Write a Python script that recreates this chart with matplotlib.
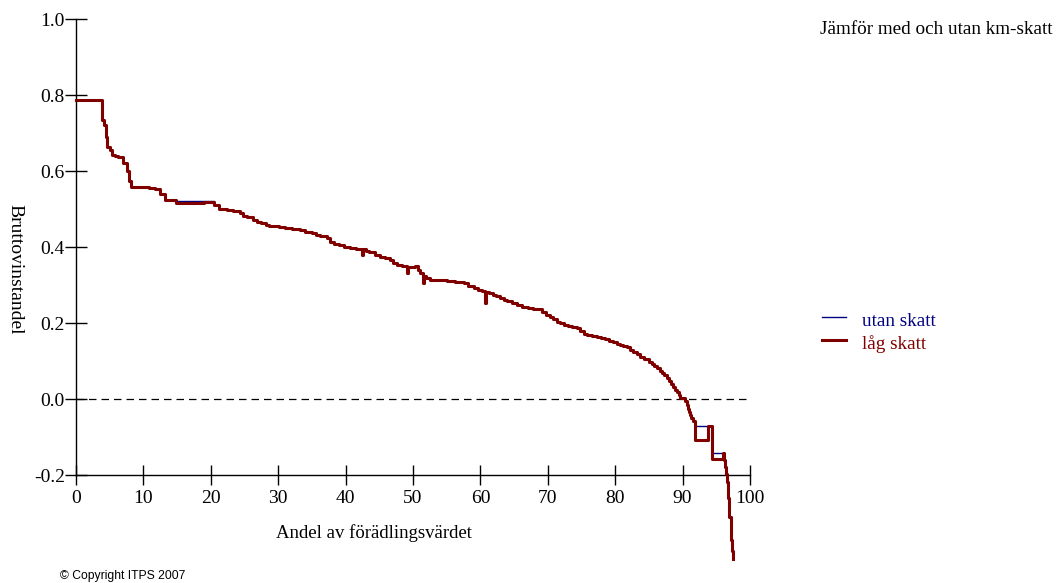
import matplotlib
matplotlib.use('Agg')
import matplotlib.pyplot as plt
from matplotlib.lines import Line2D

plt.rcParams['font.family'] = 'Liberation Serif'

# Andel av förädlingsvärdet (%) and bruttovinstandel for "låg skatt" (step curve)
x_andel = [0.0, 3.8, 4.2, 4.4, 4.6, 5.0, 5.4, 5.8, 6.2, 6.9, 7.5, 7.9, 8.2, 9.5,
           10.8, 11.7, 12.4, 13.2, 14.9, 19.0, 20.5, 21.2, 22.4, 23.3, 24.3, 24.8,
           25.4, 26.3, 26.9, 27.5, 28.2, 28.7, 29.2, 30.1, 31.0, 32.1, 33.2, 34.0,
           35.0, 35.6, 36.2, 37.2, 37.7, 38.3, 39.0, 39.8, 40.7, 41.5, 42.4, 42.55,
           43.0, 43.5, 44.3, 45.1, 45.8, 46.6, 47.1, 47.6, 48.3, 49.1, 49.25, 50.3,
           50.7, 51.0, 51.5, 51.65, 52.0, 52.5, 53.8, 55.0, 56.2, 57.5, 58.2, 59.0,
           59.6, 60.2, 60.7, 60.85, 61.3, 61.8, 62.3, 62.9, 63.5, 64.0, 64.7, 65.4,
           66.2, 67.0, 67.8, 68.6, 69.2, 69.8, 70.3, 70.8, 71.3, 71.8, 72.4, 73.0,
           73.6, 74.3, 74.8, 75.3, 75.8, 76.5, 77.3, 77.9, 78.5, 79.1, 79.7, 80.2,
           80.7, 81.2, 81.7, 82.2, 82.7, 83.2, 83.7, 84.3, 85.0, 85.4, 85.8, 86.2,
           86.6, 87.0, 87.3, 87.7, 88.0, 88.3, 88.6, 88.9, 89.1, 89.4, 89.6, 90.4,
           90.6, 90.8, 91.0, 91.1, 91.3, 91.5, 91.8, 93.7, 94.3, 96.0, 96.15, 96.3,
           96.45, 96.6, 96.75, 96.9, 97.2, 97.3, 97.5]

lag_skatt = [0.787, 0.734, 0.720, 0.690, 0.664, 0.655, 0.642, 0.640, 0.636, 0.621,
             0.600, 0.575, 0.559, 0.557, 0.555, 0.553, 0.540, 0.524, 0.515, 0.519,
             0.510, 0.500, 0.497, 0.495, 0.490, 0.482, 0.478, 0.471, 0.467, 0.463,
             0.458, 0.456, 0.454, 0.452, 0.450, 0.448, 0.444, 0.440, 0.436, 0.432,
             0.428, 0.423, 0.412, 0.409, 0.405, 0.401, 0.397, 0.396, 0.379, 0.394,
             0.390, 0.386, 0.380, 0.375, 0.371, 0.366, 0.359, 0.353, 0.350, 0.331,
             0.347, 0.349, 0.340, 0.331, 0.304, 0.325, 0.318, 0.313, 0.312, 0.311,
             0.308, 0.304, 0.298, 0.291, 0.288, 0.285, 0.252, 0.282, 0.279, 0.275,
             0.270, 0.265, 0.261, 0.258, 0.252, 0.247, 0.243, 0.240, 0.238, 0.236,
             0.228, 0.221, 0.215, 0.210, 0.204, 0.199, 0.195, 0.192, 0.189, 0.186,
             0.178, 0.172, 0.168, 0.166, 0.164, 0.160, 0.157, 0.154, 0.151, 0.146,
             0.142, 0.139, 0.136, 0.130, 0.124, 0.118, 0.111, 0.105, 0.098, 0.093,
             0.088, 0.082, 0.075, 0.068, 0.062, 0.055, 0.048, 0.040, 0.032, 0.025,
             0.018, 0.010, 0.002, -0.005, -0.015, -0.025, -0.035, -0.042, -0.050,
             -0.058, -0.108, -0.071, -0.159, -0.143, -0.160, -0.178, -0.198, -0.218,
             -0.260, -0.310, -0.370, -0.400, -0.420]

# steps where "utan skatt" differs from "låg skatt": start x -> value
utan_avvikelser = {14.9: 0.522, 19.0: 0.522, 91.8: -0.071, 94.3: -0.143}
utan_skatt = [utan_avvikelser.get(x, y) for x, y in zip(x_andel, lag_skatt)]

xticks = [0, 10, 20, 30, 40, 50, 60, 70, 80, 90, 100]
yticks = [-0.2, 0.0, 0.2, 0.4, 0.6, 0.8, 1.0]

blue = '#000080'
red = '#800000'

fig = plt.figure(figsize=(10.62, 5.83), dpi=100)
ax = fig.add_axes([0.0716, 0.1852, 0.6346, 0.7822])

ax.plot(x_andel, utan_skatt, drawstyle='steps-post', color=blue, lw=1.0,
        clip_on=False, zorder=3)
ax.plot(x_andel, lag_skatt, drawstyle='steps-post', color=red, lw=2.2,
        clip_on=False, zorder=4)
ax.plot([0, 100], [0, 0], color='black', lw=0.9, linestyle=(0, (6, 4)), zorder=2)

ax.set_xlim(0, 100)
ax.set_ylim(-0.2, 1.0)
ax.set_xticks(xticks)
ax.set_xticklabels([str(t) for t in xticks])
ax.set_yticks(yticks)
ax.set_yticklabels([f'{t:.1f}' for t in yticks])
for s in ['top', 'right']:
    ax.spines[s].set_visible(False)
for s in ['left', 'bottom']:
    ax.spines[s].set_linewidth(1.0)
ax.tick_params(axis='y', direction='inout', length=16, width=1.0, pad=0,
               labelsize=14)
ax.tick_params(axis='x', direction='inout', length=14, width=1.0, pad=4,
               labelsize=14)

fig.text(374 / 1062, 0.086, 'Andel av förädlingsvärdet', fontsize=13.5,
         ha='center', va='center')
fig.text(0.014, 0.539, 'Bruttovinstandel', fontsize=14, rotation=270,
         ha='center', va='center')
fig.text(820 / 1062, 0.949, 'Jämför med och utan km-skatt', fontsize=13.8,
         ha='left', va='center')

# legend drawn by hand
fig.add_artist(Line2D([822 / 1062, 846 / 1062], [1 - 317 / 583] * 2, color=blue, lw=1.0))
fig.add_artist(Line2D([822 / 1062, 846 / 1062], [1 - 340 / 583] * 2, color=red, lw=2.2))
fig.text(862 / 1062, 1 - 322 / 583, 'utan skatt', color=blue, fontsize=13.8, va='center')
fig.text(862 / 1062, 1 - 344 / 583, 'låg skatt', color=red, fontsize=13.8, va='center')

fig.text(60 / 1062, 1 - 576 / 583, '© Copyright ITPS 2007', fontsize=8.7,
         family='Liberation Sans', va='center')

fig.savefig('out.png', dpi=100)
